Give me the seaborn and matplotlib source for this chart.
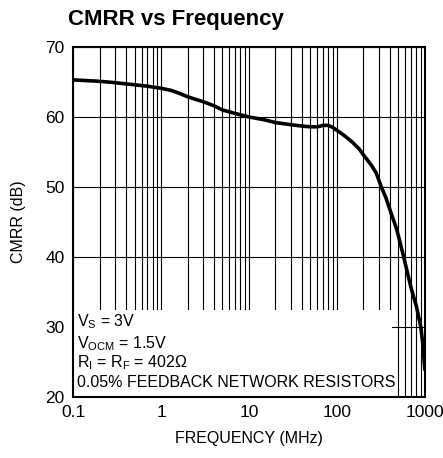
import numpy as np
import pandas as pd
import matplotlib
matplotlib.use("Agg")
import matplotlib.pyplot as plt
import seaborn as sns
from matplotlib.patches import Rectangle
from matplotlib.ticker import LogLocator, NullFormatter, FixedLocator

# data
freq_mhz = [0.1, 0.2, 0.3, 0.5, 0.7, 1, 1.3, 1.6, 2, 2.5, 3, 4, 5, 7, 10, 15,
            20, 30, 40, 50, 60, 70, 80, 90, 100, 120, 150, 180, 200, 250, 280,
            320, 360, 400, 480, 575, 700, 800, 900, 950, 1000]
cmrr_db = [65.3, 65.1, 64.9, 64.6, 64.4, 64.1, 63.8, 63.4, 62.9, 62.5, 62.2,
           61.6, 61.0, 60.5, 60.0, 59.6, 59.2, 58.9, 58.7, 58.6, 58.6, 58.8,
           58.8, 58.5, 58.1, 57.4, 56.4, 55.4, 54.6, 53.0, 52.0, 50.0, 48.5,
           46.8, 43.9, 40.0, 35.5, 33.0, 30.0, 27.5, 23.9]
x_ticks = [0.1, 1, 10, 100, 1000]
x_tick_labels = ["0.1", "1", "10", "100", "1000"]
y_ticks = [20, 30, 40, 50, 60, 70]
note_lines = [r"V$_\mathregular{S}$ = 3V",
              r"V$_\mathregular{OCM}$ = 1.5V",
              r"R$_\mathregular{I}$ = R$_\mathregular{F}$ = 402Ω",
              "0.05% FEEDBACK NETWORK RESISTORS"]

df = pd.DataFrame({"freq": freq_mhz, "cmrr": cmrr_db})

sns.set_style("white")
plt.rcParams["font.family"] = ["Liberation Sans", "DejaVu Sans"]
plt.rcParams["mathtext.fontset"] = "custom"
plt.rcParams["mathtext.rm"] = "Liberation Sans"
plt.rcParams["text.color"] = "black"
plt.rcParams["axes.labelcolor"] = "black"
plt.rcParams["xtick.color"] = "black"
plt.rcParams["ytick.color"] = "black"

fig = plt.figure(figsize=(4.43, 4.58), dpi=100)
ax = fig.add_axes([0.165, 0.1332, 0.794, 0.7642])

sns.lineplot(data=df, x="freq", y="cmrr", ax=ax, color="black", lw=2.6, zorder=4)

ax.set_xscale("log")
ax.set_xlim(0.1, 1000)
ax.set_ylim(20, 70)
ax.xaxis.set_major_locator(FixedLocator(x_ticks))
ax.set_xticklabels(x_tick_labels)
ax.xaxis.set_minor_locator(LogLocator(base=10, subs=np.arange(2, 10)))
ax.xaxis.set_minor_formatter(NullFormatter())
ax.set_yticks(y_ticks)

ax.set_axisbelow(True)
ax.grid(True, which="both", axis="x", color="black", lw=0.8)
ax.grid(True, which="major", axis="y", color="black", lw=0.8)

ax.tick_params(which="both", direction="in", labelsize=12.5, length=0, pad=6)
ax.tick_params(which="minor", axis="x", length=3, width=0.8)
for s in ax.spines.values():
    s.set_color("black")
    s.set_linewidth(1.5)

# white box behind the notes hides the grid there
ax.add_patch(Rectangle((0.1, 20), 422 - 0.1, 12.4, facecolor="white",
                       edgecolor="none", zorder=1.5))
ys = [0.215, 0.153, 0.097, 0.04]
for txt, yy in zip(note_lines, ys):
    ax.text(0.012, yy, txt, transform=ax.transAxes, fontsize=11.5,
            ha="left", va="center", zorder=5)

ax.set_xlabel("FREQUENCY (MHz)", fontsize=11.5, labelpad=8)
ax.set_ylabel("CMRR (dB)", fontsize=11.5, labelpad=14)
fig.text(0.153, 0.958, "CMRR vs Frequency", fontsize=16, fontweight="bold",
         ha="left", va="center")

fig.savefig("out.png", dpi=100)
